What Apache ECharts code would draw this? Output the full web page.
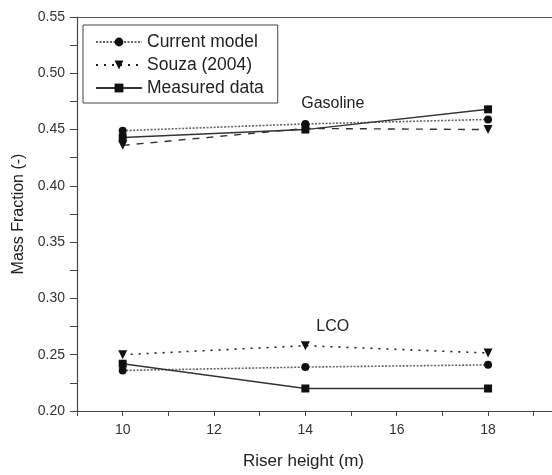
<!DOCTYPE html>
<html>
<head>
<meta charset="utf-8">
<script src="https://cdn.jsdelivr.net/npm/echarts@6/dist/echarts.min.js"></script>
<style>html,body{margin:0;padding:0;background:#fff;}#c{width:552px;height:475px;}</style>
</head>
<body>
<div id="c"></div>
<script>
var heights = [10, 14, 18];
var gasCurrent = [0.449, 0.455, 0.459];
var gasSouza = [0.436, 0.451, 0.450];
var gasMeasured = [0.443, 0.450, 0.468];
var lcoCurrent = [0.236, 0.239, 0.241];
var lcoSouza = [0.250, 0.258, 0.2515];
var lcoMeasured = [0.242, 0.220, 0.220];
var yTicks = [0.20, 0.25, 0.30, 0.35, 0.40, 0.45, 0.50, 0.55];
var xTicks = [10, 12, 14, 16, 18];
var nameCurrent = 'Current model', nameSouza = 'Souza (2004)', nameMeasured = 'Measured data';

function pairs(v){ return heights.map(function(h,i){ return [h, v[i]]; }); }
var FONT = 'Liberation Sans, Arial, sans-serif';

function mk(name, vals, sym, size, lineType, color, width){
  return {
    name: name, type: 'line', data: pairs(vals), symbol: sym, symbolSize: size,
    itemStyle: {color: '#111'},
    lineStyle: {type: lineType, color: color, width: width},
    z: 3, animation: false
  };
}

var series = [
  mk(nameCurrent, lcoCurrent, 'circle', 8, [2, 1.5], '#666', 1.6),
  mk(nameSouza, lcoSouza, 'triangle', 9, [2, 6], '#222', 1.6),
  mk(nameMeasured, lcoMeasured, 'rect', 8, 'solid', '#333', 1.4),
  mk(nameCurrent, gasCurrent, 'circle', 8, [2, 1.5], '#666', 1.6),
  mk(nameSouza, gasSouza, 'triangle', 9, [7, 7], '#333', 1.4),
  mk(nameMeasured, gasMeasured, 'rect', 8, 'solid', '#333', 1.4)
];
series.forEach(function(s){ s.symbolRotate = s.symbol === 'triangle' ? 180 : 0; });
series.push({
  type: 'scatter', data: [], silent: true,
  markPoint: {
    symbol: 'circle', symbolSize: 0,
    label: {show: true, position: 'inside', color: '#222', fontSize: 16, fontFamily: FONT},
    data: [
      {coord: [14.6, 0.4735], value: 'Gasoline', label: {formatter: 'Gasoline'}},
      {coord: [14.6, 0.275], value: 'LCO', label: {formatter: 'LCO'}}
    ]
  }
});

var chart = echarts.init(document.getElementById('c'), null, {renderer: 'canvas'});
chart.setOption({
  backgroundColor: '#fff',
  animation: false,
  grid: {left: 77, top: 17, bottom: 64, right: 0, show: false},
  legend: {
    data: [nameCurrent, nameSouza, nameMeasured],
    orient: 'vertical', left: 83, top: 25,
    itemWidth: 46, itemHeight: 11, itemGap: 5,
    padding: [8, 14, 6, 12],
    borderColor: '#444', borderWidth: 1,
    textStyle: {fontSize: 17.5, color: '#222', fontFamily: FONT},
    selectedMode: false
  },
  xAxis: [{
    type: 'value', min: 9, max: 19.4, interval: 1,
    name: 'Riser height (m)', nameLocation: 'middle', nameGap: 42,
    nameTextStyle: {fontSize: 17, color: '#222', fontFamily: FONT, padding: [0, 22, 0, 0]},
    axisLine: {lineStyle: {color: '#444', width: 1.2}},
    axisTick: {show: true, length: 5, lineStyle: {color: '#444'}},
    axisLabel: {color: '#333', fontSize: 14, fontFamily: FONT, margin: 12, showMaxLabel: false,
      formatter: function(v){ return xTicks.indexOf(v) >= 0 ? String(v) : ''; }},
    splitLine: {show: false}
  }, {
    type: 'value', position: 'top', min: 9, max: 19.4,
    axisLine: {show: true, onZero: false, lineStyle: {color: '#555', width: 1.2}},
    axisTick: {show: false}, axisLabel: {show: false}, splitLine: {show: false}
  }],
  yAxis: {
    type: 'value', min: 0.20, max: 0.55, interval: 0.025,
    name: 'Mass Fraction (-)', nameLocation: 'middle', nameGap: 46,
    nameTextStyle: {fontSize: 16, color: '#222', fontFamily: FONT},
    axisLine: {show: true, lineStyle: {color: '#444', width: 1.2}},
    axisTick: {show: true, length: 7, lineStyle: {color: '#444'}},
    axisLabel: {color: '#333', fontSize: 14, fontFamily: FONT, margin: 12,
      formatter: function(v){
        var r = Math.round(v * 1000) / 1000;
        return yTicks.some(function(t){ return Math.abs(t - r) < 1e-6; }) ? r.toFixed(2) : '';
      }},
    splitLine: {show: false}
  },
  series: series
});
</script>
</body>
</html>
